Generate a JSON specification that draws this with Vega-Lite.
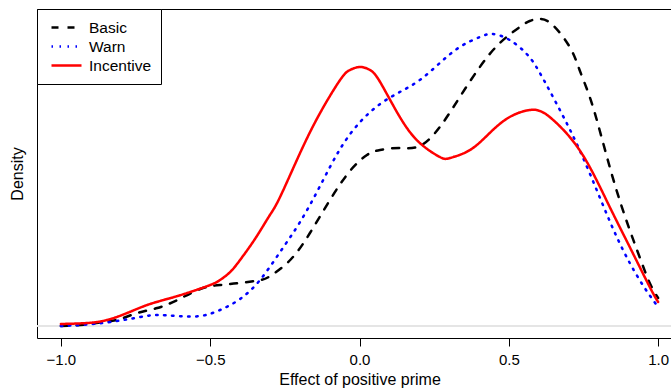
{
  "$schema": "https://vega.github.io/schema/vega-lite/v6.json",
  "autosize": {"type": "none"},
  "padding": {"left": 37, "top": 9, "right": 0, "bottom": 53},
  "width": 645,
  "height": 329,
  "background": "white",
  "config": {
    "font": "Liberation Sans",
    "view": {"stroke": "black", "strokeWidth": 1},
    "axis": {"grid": false, "labelFont": "Liberation Sans", "titleFont": "Liberation Sans", "labelColor": "black", "titleColor": "black", "titleFontWeight": "normal", "tickColor": "black"}
  },
  "data": {"values": [
    {"g": "Basic", "x": -1.0, "d": 0.00},
    {"g": "Basic", "x": -0.935, "d": 0.01},
    {"g": "Basic", "x": -0.855, "d": 0.04},
    {"g": "Basic", "x": -0.801, "d": 0.07},
    {"g": "Basic", "x": -0.744, "d": 0.13},
    {"g": "Basic", "x": -0.677, "d": 0.18},
    {"g": "Basic", "x": -0.610, "d": 0.26},
    {"g": "Basic", "x": -0.533, "d": 0.37},
    {"g": "Basic", "x": -0.467, "d": 0.41},
    {"g": "Basic", "x": -0.400, "d": 0.43},
    {"g": "Basic", "x": -0.333, "d": 0.46},
    {"g": "Basic", "x": -0.299, "d": 0.50},
    {"g": "Basic", "x": -0.232, "d": 0.66},
    {"g": "Basic", "x": -0.166, "d": 0.93},
    {"g": "Basic", "x": -0.099, "d": 1.26},
    {"g": "Basic", "x": -0.032, "d": 1.55},
    {"g": "Basic", "x": 0.025, "d": 1.71},
    {"g": "Basic", "x": 0.069, "d": 1.76},
    {"g": "Basic", "x": 0.135, "d": 1.78},
    {"g": "Basic", "x": 0.202, "d": 1.80},
    {"g": "Basic", "x": 0.269, "d": 1.99},
    {"g": "Basic", "x": 0.336, "d": 2.29},
    {"g": "Basic", "x": 0.403, "d": 2.59},
    {"g": "Basic", "x": 0.470, "d": 2.83},
    {"g": "Basic", "x": 0.537, "d": 2.99},
    {"g": "Basic", "x": 0.570, "d": 3.05},
    {"g": "Basic", "x": 0.604, "d": 3.07},
    {"g": "Basic", "x": 0.647, "d": 3.01},
    {"g": "Basic", "x": 0.704, "d": 2.79},
    {"g": "Basic", "x": 0.737, "d": 2.56},
    {"g": "Basic", "x": 0.771, "d": 2.29},
    {"g": "Basic", "x": 0.804, "d": 1.96},
    {"g": "Basic", "x": 0.838, "d": 1.59},
    {"g": "Basic", "x": 0.871, "d": 1.26},
    {"g": "Basic", "x": 0.905, "d": 0.96},
    {"g": "Basic", "x": 0.938, "d": 0.69},
    {"g": "Basic", "x": 0.972, "d": 0.43},
    {"g": "Basic", "x": 1.0, "d": 0.28},
    {"g": "Warn", "x": -1.0, "d": 0.00},
    {"g": "Warn", "x": -0.935, "d": 0.01},
    {"g": "Warn", "x": -0.834, "d": 0.04},
    {"g": "Warn", "x": -0.734, "d": 0.09},
    {"g": "Warn", "x": -0.677, "d": 0.11},
    {"g": "Warn", "x": -0.610, "d": 0.10},
    {"g": "Warn", "x": -0.533, "d": 0.10},
    {"g": "Warn", "x": -0.467, "d": 0.16},
    {"g": "Warn", "x": -0.400, "d": 0.27},
    {"g": "Warn", "x": -0.333, "d": 0.46},
    {"g": "Warn", "x": -0.266, "d": 0.74},
    {"g": "Warn", "x": -0.199, "d": 1.04},
    {"g": "Warn", "x": -0.132, "d": 1.40},
    {"g": "Warn", "x": -0.065, "d": 1.77},
    {"g": "Warn", "x": 0.002, "d": 2.04},
    {"g": "Warn", "x": 0.069, "d": 2.22},
    {"g": "Warn", "x": 0.135, "d": 2.34},
    {"g": "Warn", "x": 0.202, "d": 2.46},
    {"g": "Warn", "x": 0.269, "d": 2.63},
    {"g": "Warn", "x": 0.336, "d": 2.79},
    {"g": "Warn", "x": 0.403, "d": 2.89},
    {"g": "Warn", "x": 0.447, "d": 2.92},
    {"g": "Warn", "x": 0.503, "d": 2.86},
    {"g": "Warn", "x": 0.560, "d": 2.72},
    {"g": "Warn", "x": 0.604, "d": 2.53},
    {"g": "Warn", "x": 0.671, "d": 2.16},
    {"g": "Warn", "x": 0.737, "d": 1.76},
    {"g": "Warn", "x": 0.804, "d": 1.29},
    {"g": "Warn", "x": 0.871, "d": 0.83},
    {"g": "Warn", "x": 0.938, "d": 0.46},
    {"g": "Warn", "x": 0.995, "d": 0.21},
    {"g": "Incentive", "x": -1.0, "d": 0.02},
    {"g": "Incentive", "x": -0.911, "d": 0.03},
    {"g": "Incentive", "x": -0.845, "d": 0.06},
    {"g": "Incentive", "x": -0.778, "d": 0.13},
    {"g": "Incentive", "x": -0.711, "d": 0.21},
    {"g": "Incentive", "x": -0.644, "d": 0.27},
    {"g": "Incentive", "x": -0.577, "d": 0.33},
    {"g": "Incentive", "x": -0.500, "d": 0.41},
    {"g": "Incentive", "x": -0.467, "d": 0.46},
    {"g": "Incentive", "x": -0.433, "d": 0.54},
    {"g": "Incentive", "x": -0.400, "d": 0.66},
    {"g": "Incentive", "x": -0.366, "d": 0.80},
    {"g": "Incentive", "x": -0.333, "d": 0.95},
    {"g": "Incentive", "x": -0.300, "d": 1.11},
    {"g": "Incentive", "x": -0.266, "d": 1.29},
    {"g": "Incentive", "x": -0.199, "d": 1.73},
    {"g": "Incentive", "x": -0.132, "d": 2.13},
    {"g": "Incentive", "x": -0.065, "d": 2.46},
    {"g": "Incentive", "x": -0.032, "d": 2.56},
    {"g": "Incentive", "x": 0.002, "d": 2.59},
    {"g": "Incentive", "x": 0.035, "d": 2.56},
    {"g": "Incentive", "x": 0.069, "d": 2.44},
    {"g": "Incentive", "x": 0.135, "d": 2.09},
    {"g": "Incentive", "x": 0.202, "d": 1.83},
    {"g": "Incentive", "x": 0.269, "d": 1.69},
    {"g": "Incentive", "x": 0.303, "d": 1.68},
    {"g": "Incentive", "x": 0.370, "d": 1.76},
    {"g": "Incentive", "x": 0.436, "d": 1.93},
    {"g": "Incentive", "x": 0.503, "d": 2.09},
    {"g": "Incentive", "x": 0.570, "d": 2.16},
    {"g": "Incentive", "x": 0.604, "d": 2.15},
    {"g": "Incentive", "x": 0.637, "d": 2.09},
    {"g": "Incentive", "x": 0.704, "d": 1.89},
    {"g": "Incentive", "x": 0.771, "d": 1.59},
    {"g": "Incentive", "x": 0.838, "d": 1.19},
    {"g": "Incentive", "x": 0.905, "d": 0.79},
    {"g": "Incentive", "x": 0.972, "d": 0.39},
    {"g": "Incentive", "x": 1.0, "d": 0.24}
  ]},
  "layer": [
    {
      "mark": {"type": "rule", "color": "#e4e4e4", "strokeWidth": 0.6},
      "encoding": {"y": {"datum": 0, "type": "quantitative"}}
    },
    {
      "mark": {"type": "line", "interpolate": "natural", "strokeCap": "round", "clip": true},
      "encoding": {
        "x": {"field": "x", "type": "quantitative",
              "scale": {"domain": [-1.08, 1.08], "nice": false, "zero": false},
              "axis": {"values": [-1, -0.5, 0, 0.5, 1], "format": ".1f", "domain": false, "tickSize": 8, "labelPadding": 6, "labelFontSize": 15, "title": "Effect of positive prime", "titleFontSize": 16, "titlePadding": 4}},
        "y": {"field": "d", "type": "quantitative",
              "scale": {"domain": [-0.12, 3.17], "nice": false, "zero": false},
              "axis": {"ticks": false, "labels": false, "domain": false, "title": "Density", "titleFontSize": 16, "titlePadding": 12}},
        "color": {"field": "g", "type": "nominal",
                  "scale": {"domain": ["Basic", "Warn", "Incentive"], "range": ["#000000", "#0000ff", "#ff0000"]},
                  "legend": {"title": null, "orient": "none", "legendX": 0, "legendY": 0, "strokeColor": "black", "fillColor": "white", "padding": 9, "symbolType": "stroke", "symbolSize": 900, "symbolOffset": 4, "clipHeight": 19, "rowPadding": 0, "labelOffset": 6, "labelFontSize": 15.5, "labelFont": "Liberation Sans", "labelColor": "black", "labelExpr": "datum.label + '\u00a0\u00a0'"}},
        "strokeDash": {"field": "g", "type": "nominal",
                       "scale": {"domain": ["Basic", "Warn", "Incentive"], "range": [[7, 9], [1.5, 6.5], [1, 0]]}},
        "strokeWidth": {"field": "g", "type": "nominal",
                        "scale": {"domain": ["Basic", "Warn", "Incentive"], "range": [2.5, 2.5, 3.5]}}
      }
    }
  ]
}
